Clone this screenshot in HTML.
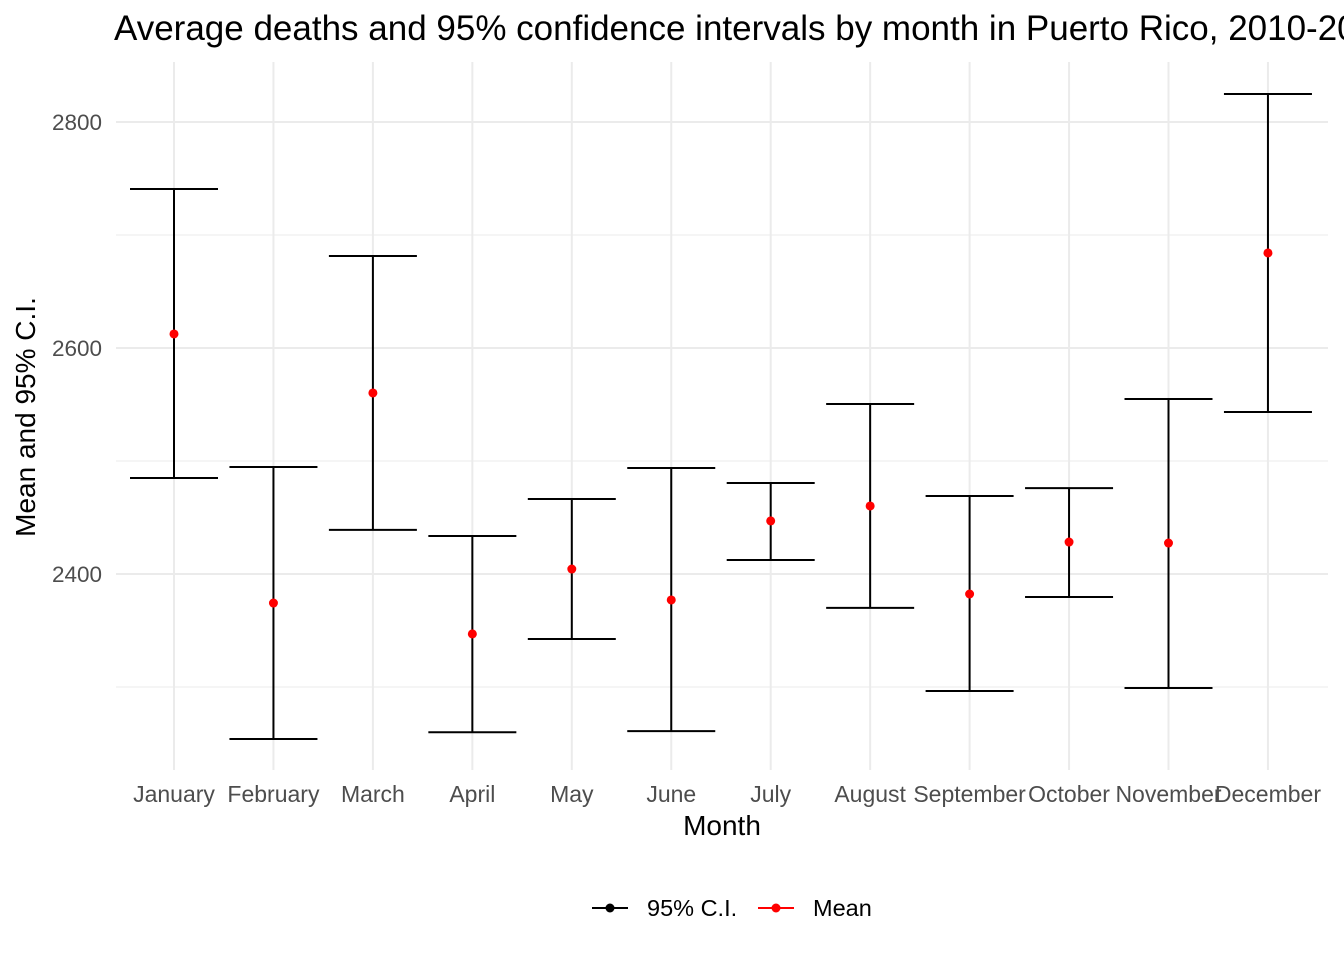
<!DOCTYPE html>
<html><head><meta charset="utf-8"><style>
body{margin:0;background:#fff;font-family:"Liberation Sans",Arial,sans-serif;overflow:hidden;}
svg text{font-family:"Liberation Sans",Arial,sans-serif;}
</style></head><body>
<svg id="chart" width="1344" height="960" viewBox="0 0 1344 960" xmlns="http://www.w3.org/2000/svg">
<text x="114" y="40" font-size="35" fill="#000">Average deaths and 95% confidence intervals by month in Puerto Rico, 2010-2016</text>
<g id="grid"></g>
<g id="marks"></g>
<g id="xlabels"></g>
<g id="ylabels"></g>
<text x="722" y="835" font-size="28" text-anchor="middle">Month</text>
<text transform="translate(35,417) rotate(-90)" font-size="28" text-anchor="middle">Mean and 95% C.I.</text>
<g>
<line x1="592" y1="908" x2="628" y2="908" stroke="#000" stroke-width="2"/>
<circle cx="610" cy="908" r="4.5" fill="#000"/>
<text x="647" y="916" font-size="23.5">95% C.I.</text>
<line x1="758" y1="908" x2="794" y2="908" stroke="red" stroke-width="2"/>
<circle cx="776" cy="908" r="4.5" fill="red"/>
<text x="813" y="916" font-size="23.5">Mean</text>
</g>
</svg>
<script>
const months=["January","February","March","April","May","June","July","August","September","October","November","December"];
const upper=[2740.7,2494.7,2681.4,2433.6,2466.4,2493.8,2480.5,2550.4,2469,2476,2554.9,2824.8];
const lower=[2485,2254,2439,2260,2342.5,2261,2412.4,2370,2296.5,2379.6,2299.1,2543.4];
const means=[2612.4,2374.3,2560.2,2347,2404.4,2377,2447,2460.2,2382.3,2428.3,2427.4,2684.1];
const majorTicks=[2400,2600,2800];
const minorTicks=[2300,2500,2700];
const NS="http://www.w3.org/2000/svg";
const y=v=>122+(2800-v)*1.13;
const x=i=>174+i*99.45;
const L=116,R=1328,T=62,B=770;
function mk(tag,attrs,parent){const e=document.createElementNS(NS,tag);for(const k in attrs)e.setAttribute(k,attrs[k]);document.getElementById(parent).appendChild(e);return e;}
minorTicks.forEach(v=>{const e=mk("line",{x1:L,x2:R,y1:y(v),y2:y(v),stroke:"#ebebeb","stroke-width":1},"grid");

});
majorTicks.forEach(v=>{const e=mk("line",{x1:L,x2:R,y1:y(v),y2:y(v),stroke:"#ebebeb","stroke-width":2},"grid");


const t=mk("text",{x:102,y:y(v)+8,"font-size":22.5,"text-anchor":"end",fill:"#4d4d4d"},"ylabels");t.textContent=v;

});
months.forEach((m,i)=>{const e=mk("line",{x1:x(i),x2:x(i),y1:T,y2:B,stroke:"#ebebeb","stroke-width":2},"grid");


const t=mk("text",{x:x(i),y:802,"font-size":23,"text-anchor":"middle",fill:"#4d4d4d"},"xlabels");t.textContent=m;


const v=mk("line",{x1:x(i),x2:x(i),y1:y(upper[i]),y2:y(lower[i]),stroke:"#000","stroke-width":2},"marks");


[upper[i],lower[i]].forEach(val=>{const c=mk("line",{x1:x(i)-44,x2:x(i)+44,y1:y(val),y2:y(val),stroke:"#000","stroke-width":2},"marks");

});
const p=mk("circle",{cx:x(i),cy:y(means[i]),r:4.5,fill:"red"},"marks");

});
</script>
</body></html>
